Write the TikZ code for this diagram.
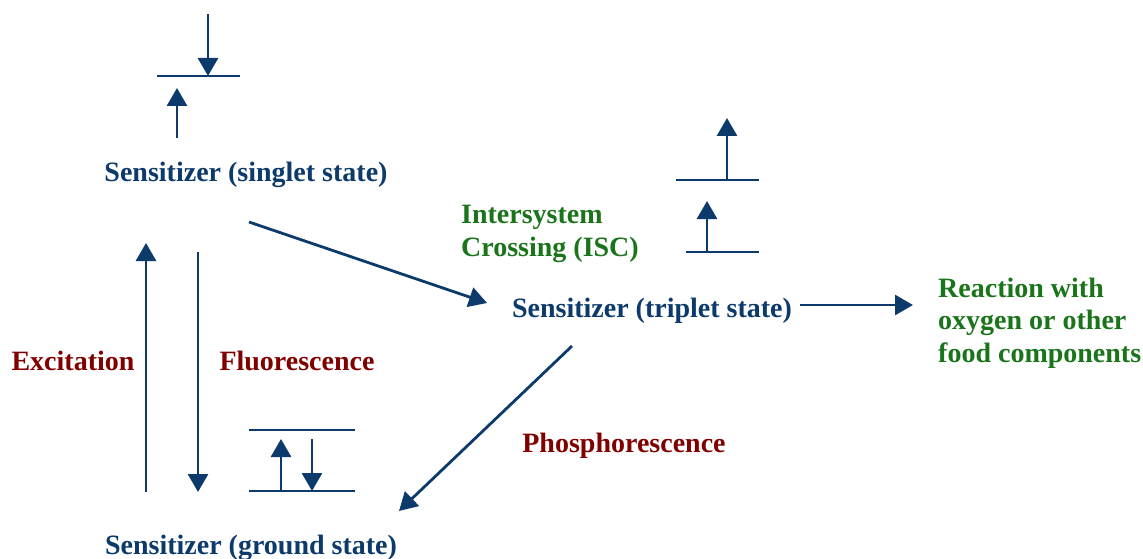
\documentclass[tikz,border=0pt]{standalone}
\usepackage{fontspec}
\setmainfont{Liberation Serif}
\usetikzlibrary{arrows.meta}
\definecolor{navy}{HTML}{0B3A6B}
\definecolor{dgreen}{HTML}{1A741A}
\definecolor{dred}{HTML}{800000}
\tikzset{
  lbl/.style={font=\fontsize{28}{32.5}\selectfont\bfseries, inner sep=0pt},
  state/.style={lbl, text=navy},
  gtxt/.style={lbl, text=dgreen, align=left},
  rtxt/.style={lbl, text=dred},
  arr/.style={draw=navy, line width=2.8pt, -{Triangle[width=20pt,length=18pt]}},
  lvl/.style={draw=navy, line width=2.8pt},
}
\begin{document}
\begin{tikzpicture}[x=1pt,y=-1pt]
\useasboundingbox (0,0) rectangle (1143,559);
% texts
\node[state] (s1) at (246,175) {Sensitizer (singlet state)};
\node[state] (s3) at (652,311) {Sensitizer (triplet state)};
\node[state] (s0) at (251,548) {Sensitizer (ground state)};
\node[gtxt, anchor=west] (isc) at (461,234) {Intersystem\\Crossing (ISC)};
\node[gtxt, anchor=west] (rx) at (938,323) {Reaction with\\oxygen or other\\food components};
\node[rtxt] (exc) at (73,361) {Excitation};
\node[rtxt] (flu) at (297,361) {Fluorescence};
\node[rtxt] (pho) at (624,446) {Phosphorescence};
% singlet levels
\coordinate (a1) at (157,76); \coordinate (a2) at (240,76);
\draw[lvl] (a1) -- (a2);
\coordinate (d1) at (208,14); \coordinate (d2) at (208,76);
\draw[arr] (d1) -- (d2);
\coordinate (u1) at (177,138); \coordinate (u2) at (177,88);
\draw[arr] (u1) -- (u2);
% triplet levels
\coordinate (t1) at (676,180); \coordinate (t2) at (759,180);
\draw[lvl] (t1) -- (t2);
\coordinate (t3) at (727,180); \coordinate (t4) at (727,118);
\draw[arr] (t3) -- (t4);
\coordinate (t5) at (686,252); \coordinate (t6) at (759,252);
\draw[lvl] (t5) -- (t6);
\coordinate (t7) at (707,252); \coordinate (t8) at (707,201);
\draw[arr] (t7) -- (t8);
% ground levels
\coordinate (g1) at (249,430); \coordinate (g2) at (355,430);
\draw[lvl] (g1) -- (g2);
\coordinate (g3) at (249,491); \coordinate (g4) at (355,491);
\draw[lvl] (g3) -- (g4);
\coordinate (g5) at (281,491); \coordinate (g6) at (281,439);
\draw[arr] (g5) -- (g6);
\coordinate (g7) at (312,439); \coordinate (g8) at (312,491);
\draw[arr] (g7) -- (g8);
% main connectors
\coordinate (e1) at (146,492); \coordinate (e2) at (146,243);
\draw[arr] (e1) -- (e2);
\coordinate (f1) at (198,252); \coordinate (f2) at (198,492);
\draw[arr] (f1) -- (f2);
\coordinate (i1) at (249,222); \coordinate (i2) at (487,303);
\draw[arr] (i1) -- (i2);
\coordinate (r1) at (800,305); \coordinate (r2) at (913,305);
\draw[arr] (r1) -- (r2);
\coordinate (p1) at (572,346); \coordinate (p2) at (399,511);
\draw[arr] (p1) -- (p2);
\end{tikzpicture}
\end{document}
